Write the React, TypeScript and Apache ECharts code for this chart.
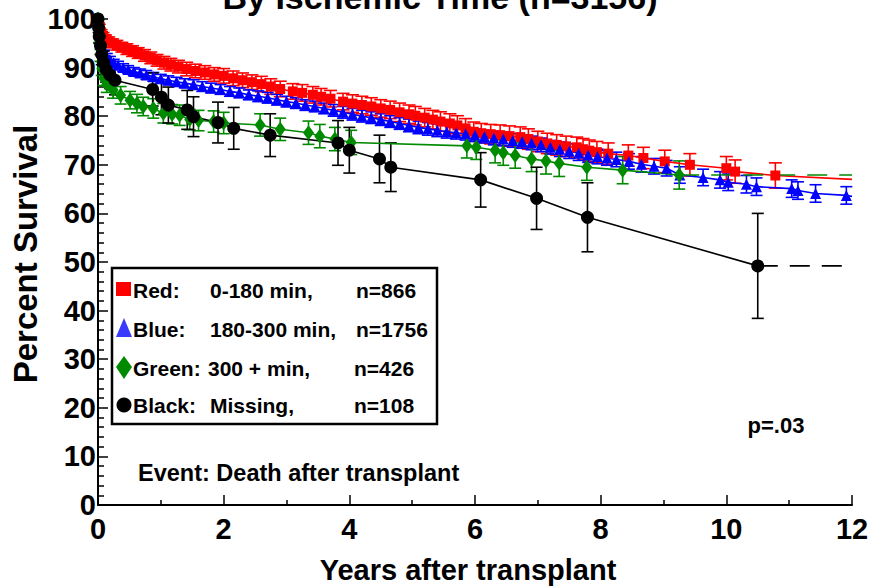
import React, { useEffect, useRef } from "react";
import * as echarts from "echarts";

// Red: 0-180 min, n=866
const redT = [0, 0.02, 0.05, 0.08, 0.12, 0.17, 0.23, 0.3, 0.38, 0.46, 0.55, 0.64, 0.74, 0.84, 0.94, 1.05, 1.16, 1.28, 1.41, 1.55, 1.7, 1.85, 2.0, 2.15, 2.3, 2.45, 2.6, 2.75, 2.9, 3.1, 3.25, 3.42, 3.55, 3.7, 3.9, 4.05, 4.2, 4.35, 4.5, 4.65, 4.8, 4.95, 5.05, 5.2, 5.33, 5.45, 5.6, 5.72, 5.85, 5.98, 6.1, 6.25, 6.4, 6.55, 6.72, 6.85, 7.0, 7.15, 7.3, 7.45, 7.62, 7.72, 7.82, 7.94, 8.12, 8.44, 8.68, 9.02, 9.42, 10.0, 10.14, 10.78, 12];
const redV = [100, 98.5, 97.2, 96.5, 95.9, 95.4, 95.0, 94.6, 94.2, 93.8, 93.4, 93.0, 92.5, 92.0, 91.5, 91.0, 90.6, 90.2, 89.7, 89.3, 89.0, 88.6, 88.3, 87.8, 87.4, 87.0, 86.6, 86.1, 85.6, 85.1, 84.8, 84.4, 84.0, 83.6, 83.0, 82.6, 82.3, 82.0, 81.6, 81.3, 80.8, 80.4, 80.1, 79.7, 79.3, 78.9, 78.5, 78.1, 77.5, 76.8, 76.5, 76.3, 76.1, 75.9, 75.7, 75.3, 74.8, 74.4, 74.1, 73.8, 73.6, 73.2, 72.9, 72.6, 72.3, 71.9, 71.4, 70.7, 70.0, 69.3, 68.6, 67.8, 67.0];
const redE = [0, 0.4, 0.6, 0.7, 0.8, 0.9, 0.9, 1.0, 1.0, 1.1, 1.1, 1.1, 1.2, 1.2, 1.2, 1.3, 1.3, 1.3, 1.4, 1.4, 1.4, 1.4, 1.5, 1.5, 1.5, 1.5, 1.6, 1.6, 1.6, 1.6, 1.7, 1.7, 1.7, 1.7, 1.7, 1.8, 1.8, 1.8, 1.8, 1.8, 1.9, 1.9, 1.9, 1.9, 1.9, 2.0, 2.0, 2.0, 2.0, 2.0, 2.0, 2.0, 2.1, 2.1, 2.1, 2.1, 2.1, 2.1, 2.1, 2.1, 2.1, 2.2, 2.2, 2.2, 2.2, 2.2, 2.2, 2.3, 2.3, 2.4, 2.4, 2.6, 0];

// Blue: 180-300 min, n=1756
const blueT = [0, 0.02, 0.04, 0.07, 0.1, 0.14, 0.19, 0.25, 0.32, 0.4, 0.48, 0.57, 0.67, 0.77, 0.88, 1.0, 1.12, 1.25, 1.38, 1.52, 1.66, 1.8, 1.95, 2.1, 2.25, 2.4, 2.55, 2.7, 2.85, 3.0, 3.15, 3.3, 3.45, 3.6, 3.75, 3.9, 4.05, 4.2, 4.35, 4.5, 4.65, 4.8, 4.95, 5.1, 5.25, 5.4, 5.55, 5.7, 5.85, 6.0, 6.15, 6.3, 6.45, 6.6, 6.75, 6.9, 7.05, 7.2, 7.35, 7.5, 7.65, 7.8, 7.95, 8.1, 8.25, 8.45, 8.65, 8.85, 9.05, 9.26, 9.63, 9.9, 10.03, 10.32, 10.48, 11.04, 11.14, 11.42, 11.91, 12];
const blueV = [100, 97.5, 95.5, 94.0, 93.0, 92.2, 91.6, 91.0, 90.5, 90.0, 89.6, 89.2, 88.9, 88.5, 88.1, 87.7, 87.4, 87.1, 86.8, 86.5, 86.1, 85.8, 85.5, 85.1, 84.8, 84.4, 84.1, 83.8, 83.4, 83.0, 82.7, 82.3, 82.0, 81.6, 81.2, 80.8, 80.4, 80.0, 79.7, 79.3, 78.9, 78.5, 78.1, 77.7, 77.4, 77.1, 76.8, 76.6, 76.4, 76.1, 75.8, 75.5, 75.3, 75.0, 74.8, 74.5, 74.1, 73.6, 73.2, 72.8, 72.4, 72.0, 71.7, 71.4, 71.1, 70.7, 70.1, 69.7, 69.3, 67.9, 67.4, 66.9, 66.4, 66.0, 65.5, 65.1, 64.7, 64.1, 63.7, 63.5];
const blueE = [0, 0.4, 0.5, 0.6, 0.6, 0.7, 0.7, 0.7, 0.8, 0.8, 0.8, 0.8, 0.8, 0.9, 0.9, 0.9, 0.9, 0.9, 0.9, 1.0, 1.0, 1.0, 1.0, 1.0, 1.0, 1.0, 1.1, 1.1, 1.1, 1.1, 1.1, 1.1, 1.1, 1.1, 1.2, 1.2, 1.2, 1.2, 1.2, 1.2, 1.2, 1.2, 1.3, 1.3, 1.3, 1.3, 1.3, 1.3, 1.3, 1.3, 1.3, 1.4, 1.4, 1.4, 1.4, 1.4, 1.4, 1.4, 1.5, 1.5, 1.5, 1.5, 1.5, 1.5, 1.5, 1.6, 1.6, 1.6, 1.6, 1.7, 1.7, 1.7, 1.7, 1.8, 1.8, 1.8, 1.8, 1.8, 1.8, 0];

// Green: 300 + min, n=426
const greenT = [0, 0.02, 0.04, 0.06, 0.09, 0.14, 0.24, 0.36, 0.51, 0.62, 0.72, 0.88, 1.04, 1.18, 1.3, 1.46, 1.6, 1.84, 2.0, 2.58, 2.9, 3.35, 3.53, 3.77, 4.03, 5.87, 6.02, 6.32, 6.45, 6.64, 6.9, 7.13, 7.34, 7.78, 8.35, 9.25];
const greenV = [100, 96.0, 92.5, 89.8, 87.8, 86.5, 85.4, 84.3, 83.3, 82.6, 82.0, 81.6, 80.6, 80.4, 80.2, 79.3, 79.1, 78.9, 78.6, 78.2, 77.3, 76.6, 75.9, 75.3, 74.6, 73.9, 73.6, 73.0, 72.5, 71.9, 71.2, 70.8, 70.3, 69.5, 68.9, 67.9];
const greenE = [0, 0.8, 1.2, 1.4, 1.5, 1.6, 1.7, 1.8, 1.8, 1.9, 1.9, 2.0, 2.0, 2.0, 2.1, 2.1, 2.1, 2.2, 2.2, 2.3, 2.3, 2.4, 2.4, 2.4, 2.5, 2.5, 2.5, 2.6, 2.6, 2.6, 2.6, 2.7, 2.7, 2.7, 2.8, 2.9];
const greenTailEnd = 12;

// Black: Missing, n=108
const blackT = [0, 0.01, 0.02, 0.04, 0.06, 0.09, 0.13, 0.19, 0.27, 0.87, 1.01, 1.12, 1.42, 1.52, 1.91, 2.16, 2.74, 3.82, 4.0, 4.48, 4.66, 6.09, 6.98, 7.79, 10.5];
const blackV = [100, 98.2, 96.4, 94.5, 92.7, 91.0, 89.6, 88.5, 87.4, 85.5, 83.9, 82.3, 81.3, 79.9, 78.7, 77.5, 76.1, 74.5, 73.0, 71.2, 69.5, 66.9, 63.1, 59.2, 49.2];
const blackE = [0, 1.0, 1.4, 1.8, 2.1, 2.4, 2.6, 2.8, 3.0, 3.4, 3.6, 3.7, 4.0, 4.1, 4.2, 4.3, 4.4, 4.6, 4.7, 4.9, 5.0, 5.6, 6.4, 7.1, 10.8];
const blackTailEnd = 12;

const legendRows = [
  { name: "Red:", range: "0-180 min,", n: "n=866" },
  { name: "Blue:", range: "180-300 min,", n: "n=1756" },
  { name: "Green:", range: "300 + min,", n: "n=426" },
  { name: "Black:", range: "Missing,", n: "n=108" },
];

const RED = "#ff0000";
const BLUE = "#0000ff";
const GREEN = "#008a00";
const BLACK = "#000000";
const FONT = '"Liberation Sans", Arial, Helvetica, sans-serif';

function errData(t: number[], v: number[], e: number[]) {
  const out: number[][] = [];
  for (let i = 0; i < t.length; i++) {
    if (e[i] > 0) out.push([t[i], v[i] - e[i], v[i] + e[i]]);
  }
  return out;
}

function lineData(t: number[], v: number[], endNoMarker: boolean) {
  return t.map((x, i) => {
    if (endNoMarker && i === t.length - 1) return { value: [x, v[i]], symbol: "none" };
    return { value: [x, v[i]] };
  });
}

function errSeries(data: number[][], color: string, cap: number) {
  return {
    type: "custom",
    data,
    encode: { x: 0, y: [1, 2] },
    clip: false,
    silent: true,
    renderItem: (params: any, api: any) => {
      const x = api.value(0);
      const lo = api.value(1);
      const hi = api.value(2);
      const p1 = api.coord([x, hi]);
      const p2 = api.coord([x, lo]);
      const st = { stroke: color, lineWidth: 1.6 };
      return {
        type: "group",
        children: [
          { type: "line", shape: { x1: p1[0], y1: p1[1], x2: p2[0], y2: p2[1] }, style: st },
          { type: "line", shape: { x1: p1[0] - cap, y1: p1[1], x2: p1[0] + cap, y2: p1[1] }, style: st },
          { type: "line", shape: { x1: p2[0] - cap, y1: p2[1], x2: p2[0] + cap, y2: p2[1] }, style: st },
        ],
      };
    },
  };
}

function lineSeries(data: any[], color: string, symbol: string, size: any) {
  return {
    type: "line",
    data,
    symbol,
    symbolSize: size,
    showSymbol: true,
    clip: false,
    silent: true,
    itemStyle: { color },
    lineStyle: { color, width: 1.6 },
  };
}

export default function App() {
  const ref = useRef<HTMLDivElement>(null);
  useEffect(() => {
    if (!ref.current) return;
    const chart = echarts.init(ref.current, null, { renderer: "svg" });
    const legendY = [290, 329, 368, 405];
    const legendGraphics: any[] = [
      { type: "rect", shape: { x: 112, y: 268, width: 325, height: 156 }, style: { fill: "none", stroke: "#000", lineWidth: 2.5 } },
      { type: "rect", shape: { x: 116, y: 282, width: 15, height: 14 }, style: { fill: RED } },
      { type: "polygon", shape: { points: [[124, 318], [116, 337], [132, 337]] }, style: { fill: "#3a3aff" } },
      { type: "polygon", shape: { points: [[124, 356], [132, 367], [124, 379], [116, 367]] }, style: { fill: GREEN } },
      { type: "circle", shape: { cx: 124, cy: 405, r: 7.5 }, style: { fill: BLACK } },
    ];
    const colX = [[133, 210, 356], [133, 210, 356], [133, 208, 354], [133, 210, 354]];
    legendRows.forEach((r, i) => {
      [r.name, r.range, r.n].forEach((txt, j) => {
        legendGraphics.push({
          type: "text",
          x: colX[i][j],
          y: legendY[i],
          style: { text: txt, font: `bold 21px ${FONT}`, fill: "#000", textAlign: "left", textVerticalAlign: "middle" },
        });
      });
    });

    const option: any = {
      animation: false,
      backgroundColor: "#ffffff",
      grid: { left: 98, right: 21, top: 19, bottom: 83, containLabel: false },
      xAxis: {
        type: "value",
        min: 0,
        max: 12,
        interval: 2,
        axisLine: { show: true, lineStyle: { color: "#000", width: 2 } },
        axisTick: { show: true, inside: true, length: 10, lineStyle: { color: "#000", width: 1.5 } },
        minorTick: { show: true, splitNumber: 2, length: 5, lineStyle: { color: "#000", width: 1.5 } },
        splitLine: { show: false },
        axisLabel: { color: "#000", fontFamily: FONT, fontWeight: "bold", fontSize: 29, margin: 9 },
      },
      yAxis: {
        type: "value",
        min: 0,
        max: 100,
        interval: 10,
        axisLine: { show: true, lineStyle: { color: "#000", width: 2 } },
        axisTick: { show: true, inside: true, length: 10, lineStyle: { color: "#000", width: 1.5 } },
        minorTick: { show: true, splitNumber: 5, length: 6, lineStyle: { color: "#000", width: 1.5 } },
        splitLine: { show: false },
        axisLabel: { color: "#000", fontFamily: FONT, fontWeight: "bold", fontSize: 29, margin: 2 },
      },
      graphic: [
        {
          type: "text",
          x: 440,
          y: -3,
          style: { text: "By Ischemic Time (n=3156)", font: `bold 34px ${FONT}`, fill: "#000", textAlign: "center", textVerticalAlign: "middle" },
        },
        {
          type: "text",
          x: 25,
          y: 254,
          rotation: Math.PI / 2,
          style: { text: "Percent Survival", font: `bold 33px ${FONT}`, fill: "#000", textAlign: "center", textVerticalAlign: "middle" },
        },
        {
          type: "text",
          x: 468,
          y: 570,
          style: { text: "Years after transplant", font: `bold 29px ${FONT}`, fill: "#000", textAlign: "center", textVerticalAlign: "middle" },
        },
        {
          type: "text",
          x: 138,
          y: 473,
          style: { text: "Event: Death after transplant", font: `bold 23.5px ${FONT}`, fill: "#000", textAlign: "left", textVerticalAlign: "middle" },
        },
        {
          type: "text",
          x: 776,
          y: 425,
          style: { text: "p=.03", font: `bold 22px ${FONT}`, fill: "#000", textAlign: "center", textVerticalAlign: "middle" },
        },
        ...legendGraphics,
      ],
      series: [
        errSeries(errData(redT, redV, redE), RED, 6.5),
        lineSeries(lineData(redT, redV, true), RED, "rect", 10),
        errSeries(errData(blueT, blueV, blueE), BLUE, 6),
        lineSeries(lineData(blueT, blueV, true), BLUE, "triangle", 11),
        errSeries(errData(greenT, greenV, greenE), GREEN, 6),
        lineSeries(lineData(greenT, greenV, false), GREEN, "diamond", [11, 15]),
        {
          type: "line",
          data: [[greenT[greenT.length - 1], greenV[greenV.length - 1]], [greenTailEnd, greenV[greenV.length - 1]]],
          symbol: "none",
          clip: false,
          silent: true,
          lineStyle: { color: GREEN, width: 1.6, type: [20, 12] },
        },
        errSeries(errData(blackT, blackV, blackE), BLACK, 6),
        lineSeries(lineData(blackT, blackV, false), BLACK, "circle", 13),
        {
          type: "line",
          data: [[blackT[blackT.length - 1], blackV[blackV.length - 1]], [blackTailEnd, blackV[blackV.length - 1]]],
          symbol: "none",
          clip: false,
          silent: true,
          lineStyle: { color: BLACK, width: 1.6, type: [20, 12] },
        },
      ],
    };
    chart.setOption(option);
    return () => chart.dispose();
  }, []);
  return <div ref={ref} style={{ position: "fixed", left: 0, top: 0, width: 873, height: 588 }} />;
}
